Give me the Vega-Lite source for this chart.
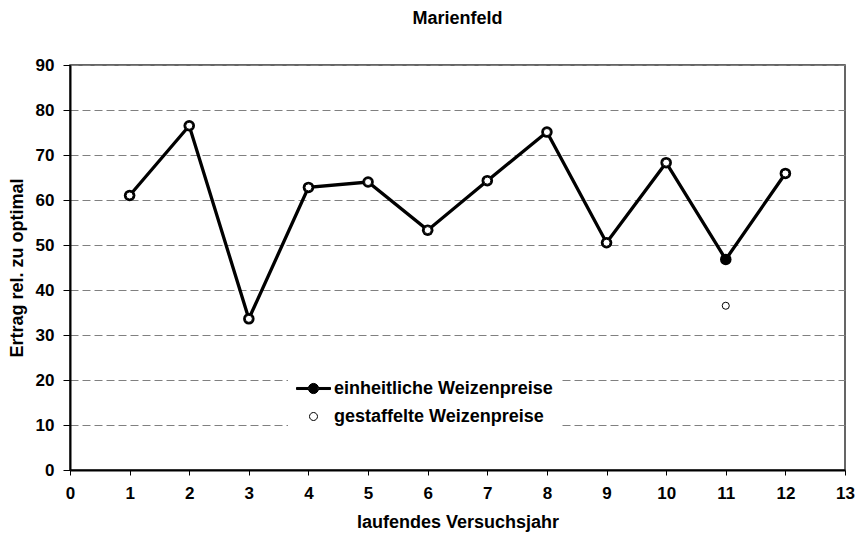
{
  "$schema": "https://vega.github.io/schema/vega-lite/v6.json",
  "width": 775,
  "height": 405,
  "autosize": {"type": "none"},
  "padding": {"left": 70, "top": 65, "right": 14, "bottom": 72},
  "background": "white",
  "title": {"text": "Marienfeld", "font": "Liberation Sans", "fontSize": 18, "fontWeight": "bold", "color": "black", "anchor": "middle", "offset": 28},
  "config": {
    "font": "Liberation Sans",
    "view": {"stroke": "#333333", "strokeWidth": 1.5},
    "axisX": {"domainColor": "black", "domainWidth": 2, "tickColor": "black", "tickSize": 5, "tickWidth": 1, "labelFlush": false, "labelFont": "Liberation Sans", "labelFontSize": 17, "labelFontWeight": "bold", "labelColor": "black", "labelPadding": 10, "titleFont": "Liberation Sans", "titleFontSize": 18, "titleFontWeight": "bold", "titleColor": "black", "titlePadding": 12, "grid": false},
    "axisY": {"domainColor": "black", "domainWidth": 2, "tickColor": "black", "tickSize": 7, "tickWidth": 1, "labelFlush": false, "labelFont": "Liberation Sans", "labelFontSize": 17, "labelFontWeight": "bold", "labelColor": "black", "labelPadding": 9, "titleFont": "Liberation Sans", "titleFontSize": 18, "titleFontWeight": "bold", "titleColor": "black", "titlePadding": 9, "grid": true, "gridColor": "#808080", "gridDash": [8, 4], "gridWidth": 1}
  },
  "data": {
    "values": [
      {"jahr": 1, "series": "einheitliche Weizenpreise", "wert": 61.0},
      {"jahr": 2, "series": "einheitliche Weizenpreise", "wert": 76.5},
      {"jahr": 3, "series": "einheitliche Weizenpreise", "wert": 33.6},
      {"jahr": 4, "series": "einheitliche Weizenpreise", "wert": 62.8},
      {"jahr": 5, "series": "einheitliche Weizenpreise", "wert": 64.0},
      {"jahr": 6, "series": "einheitliche Weizenpreise", "wert": 53.3},
      {"jahr": 7, "series": "einheitliche Weizenpreise", "wert": 64.3},
      {"jahr": 8, "series": "einheitliche Weizenpreise", "wert": 75.1},
      {"jahr": 9, "series": "einheitliche Weizenpreise", "wert": 50.5},
      {"jahr": 10, "series": "einheitliche Weizenpreise", "wert": 68.3},
      {"jahr": 11, "series": "einheitliche Weizenpreise", "wert": 46.8},
      {"jahr": 12, "series": "einheitliche Weizenpreise", "wert": 65.9},
      {"jahr": 1, "series": "gestaffelte Weizenpreise", "wert": 61.0},
      {"jahr": 2, "series": "gestaffelte Weizenpreise", "wert": 76.5},
      {"jahr": 3, "series": "gestaffelte Weizenpreise", "wert": 33.6},
      {"jahr": 4, "series": "gestaffelte Weizenpreise", "wert": 62.8},
      {"jahr": 5, "series": "gestaffelte Weizenpreise", "wert": 64.0},
      {"jahr": 6, "series": "gestaffelte Weizenpreise", "wert": 53.3},
      {"jahr": 7, "series": "gestaffelte Weizenpreise", "wert": 64.3},
      {"jahr": 8, "series": "gestaffelte Weizenpreise", "wert": 75.1},
      {"jahr": 9, "series": "gestaffelte Weizenpreise", "wert": 50.5},
      {"jahr": 10, "series": "gestaffelte Weizenpreise", "wert": 68.3},
      {"jahr": 11, "series": "gestaffelte Weizenpreise", "wert": 36.5},
      {"jahr": 12, "series": "gestaffelte Weizenpreise", "wert": 65.9}
    ]
  },
  "encoding": {
    "x": {"field": "jahr", "type": "quantitative", "scale": {"domain": [0, 13], "nice": false}, "axis": {"values": [0, 1, 2, 3, 4, 5, 6, 7, 8, 9, 10, 11, 12, 13], "title": "laufendes Versuchsjahr"}},
    "y": {"field": "wert", "type": "quantitative", "scale": {"domain": [0, 90], "nice": false}, "axis": {"values": [0, 10, 20, 30, 40, 50, 60, 70, 80, 90], "title": "Ertrag rel. zu optimal"}}
  },
  "layer": [
    {
      "mark": {"type": "point", "opacity": 0, "strokeWidth": 1},
      "encoding": {
        "shape": {"field": "series", "type": "nominal", "scale": {"domain": ["einheitliche Weizenpreise", "gestaffelte Weizenpreise"], "range": ["M-1,-0.06H-0.25V0.06H-1ZM0.25,-0.06H1V0.06H0.25ZM-0.3,0A0.3,0.3,0,1,0,0.3,0A0.3,0.3,0,1,0,-0.3,0Z", "M-0.235,0A0.235,0.235,0,1,0,0.235,0A0.235,0.235,0,1,0,-0.235,0Z"]},
          "legend": {"title": null, "orient": "none", "legendX": 218, "legendY": 298, "fillColor": "white", "padding": 8, "symbolSize": 1156, "symbolStrokeWidth": 1, "symbolOpacity": 1, "labelFont": "Liberation Sans", "labelFontSize": 18, "labelFontWeight": "bold", "labelColor": "black", "labelOffset": 3, "rowPadding": 1, "labelLimit": 400}},
        "fill": {"field": "series", "type": "nominal", "scale": {"domain": ["einheitliche Weizenpreise", "gestaffelte Weizenpreise"], "range": ["black", "white"]},
          "legend": {"title": null, "orient": "none", "legendX": 218, "legendY": 298, "fillColor": "white", "padding": 8, "symbolSize": 1156, "symbolStrokeWidth": 1, "symbolOpacity": 1, "labelFont": "Liberation Sans", "labelFontSize": 18, "labelFontWeight": "bold", "labelColor": "black", "labelOffset": 3, "rowPadding": 1, "labelLimit": 400}},
        "stroke": {"field": "series", "type": "nominal", "scale": {"domain": ["einheitliche Weizenpreise", "gestaffelte Weizenpreise"], "range": ["black", "black"]},
          "legend": {"title": null, "orient": "none", "legendX": 218, "legendY": 298, "fillColor": "white", "padding": 8, "symbolSize": 1156, "symbolStrokeWidth": 1, "symbolOpacity": 1, "labelFont": "Liberation Sans", "labelFontSize": 18, "labelFontWeight": "bold", "labelColor": "black", "labelOffset": 3, "rowPadding": 1, "labelLimit": 400}}
      }
    },
    {
      "transform": [{"filter": "datum.series === 'einheitliche Weizenpreise'"}],
      "mark": {"type": "line", "color": "black", "strokeWidth": 3.3},
      "encoding": {}
    },
    {
      "transform": [{"filter": "datum.series === 'einheitliche Weizenpreise'"}],
      "mark": {"type": "point", "shape": "circle", "filled": true, "color": "black", "size": 133, "opacity": 1, "strokeWidth": 0},
      "encoding": {}
    },
    {
      "transform": [{"filter": "datum.series === 'gestaffelte Weizenpreise'"}],
      "mark": {"type": "point", "shape": "circle", "fill": "white", "stroke": "black", "strokeWidth": 1, "size": 50, "opacity": 1},
      "encoding": {}
    }
  ]
}
